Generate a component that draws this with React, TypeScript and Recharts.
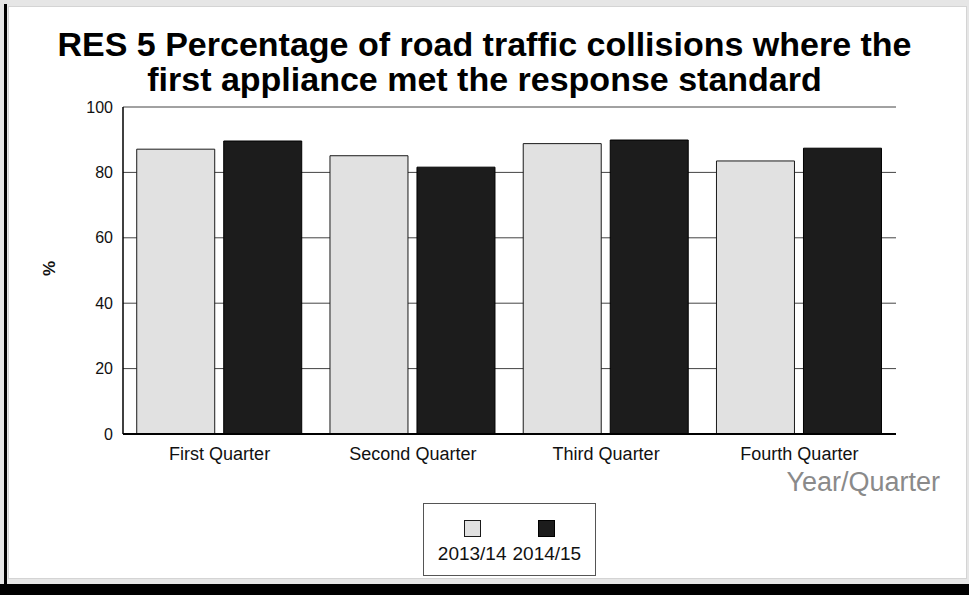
import { Bar, BarChart, CartesianGrid, Legend, XAxis, YAxis } from 'recharts';

const quarters = ['First Quarter', 'Second Quarter', 'Third Quarter', 'Fourth Quarter'];
const values201314 = [87.1, 85.1, 88.8, 83.5];
const values201415 = [89.6, 81.6, 89.9, 87.4];
const yTicks = [0, 20, 40, 60, 80, 100];

const series = [
  { key: 'y201314', name: '2013/14', fill: '#e1e1e1', stroke: '#1a1a1a' },
  { key: 'y201415', name: '2014/15', fill: '#1c1c1c', stroke: '#000000' },
];

const data = quarters.map((q, i) => ({ quarter: q, y201314: values201314[i], y201415: values201415[i] }));

const FONT = '"Liberation Sans", Arial, sans-serif';

function PercentLabel(props: any) {
  const { viewBox } = props;
  const cx = viewBox.x + 49;
  const cy = viewBox.y + viewBox.height / 2 - 2;
  return (
    <text
      x={cx}
      y={cy}
      transform={`rotate(-90 ${cx} ${cy})`}
      textAnchor="middle"
      dominantBaseline="central"
      fontFamily={FONT}
      fontWeight="bold"
      fontSize={17}
      fill="#111"
    >
      %
    </text>
  );
}

function QuarterLabel(props: any) {
  const { viewBox } = props;
  return (
    <text
      x={viewBox.x + viewBox.width + 44}
      y={viewBox.y + 57}
      textAnchor="end"
      fontFamily={FONT}
      fontSize={27}
      fill="#8a8a8a"
    >
      Year/Quarter
    </text>
  );
}

function LegendBox() {
  return (
    <div
      style={{
        boxSizing: 'border-box',
        width: 173,
        height: 73,
        border: '1px solid #555',
        background: '#fff',
        display: 'flex',
        justifyContent: 'center',
        gap: 6,
        paddingTop: 16,
        fontFamily: FONT,
      }}
    >
      {series.map((s) => (
        <div key={s.key} style={{ display: 'flex', flexDirection: 'column', alignItems: 'center' }}>
          <div style={{ width: 15, height: 15, background: s.fill, border: `1px solid ${s.stroke}` }} />
          <div style={{ marginTop: 7, fontSize: 19, lineHeight: '19px', color: '#111' }}>{s.name}</div>
        </div>
      ))}
    </div>
  );
}

const titleLine = {
  position: 'absolute' as const,
  left: 0,
  width: 969,
  textAlign: 'center' as const,
  fontFamily: FONT,
  fontWeight: 'bold' as const,
  fontSize: 34,
  lineHeight: '34px',
  height: 34,
  color: '#000',
  whiteSpace: 'nowrap' as const,
};

export default function App() {
  return (
    <div style={{ position: 'fixed', left: 0, top: 0, width: 969, height: 595, overflow: 'hidden', background: '#e6e6e6' }}>
      <div style={{ position: 'absolute', left: 4, top: 4, width: 3, height: 591, background: '#000' }} />
      <div
        style={{
          position: 'absolute',
          left: 8,
          top: 6,
          width: 959,
          height: 573,
          background: '#fff',
          border: '1px solid #d4d4d4',
          boxSizing: 'border-box',
        }}
      />
      <div style={{ position: 'absolute', left: 0, top: 584, width: 969, height: 11, background: '#000' }} />
      <div style={{ ...titleLine, top: 27 }}>RES 5 Percentage of road traffic collisions where the</div>
      <div style={{ ...titleLine, top: 62 }}>first appliance met the response standard</div>
      <div style={{ position: 'absolute', left: 0, top: 0 }}>
        <BarChart
          width={969}
          height={595}
          data={data}
          margin={{ top: 107, right: 73, bottom: 19, left: 0 }}
          barCategoryGap="7.1%"
          barGap={9}
        >
          <CartesianGrid vertical={false} stroke="#444" strokeWidth={1} />
          <XAxis
            dataKey="quarter"
            height={69}
            tickLine={false}
            tickSize={0}
            tickMargin={13}
            axisLine={{ stroke: '#000', strokeWidth: 2 }}
            tick={{ fontSize: 18, fill: '#111', fontFamily: FONT }}
            interval={0}
            label={<QuarterLabel />}
          />
          <YAxis
            width={123}
            domain={[0, 100]}
            ticks={yTicks}
            tickLine={false}
            tickSize={0}
            tickMargin={10}
            axisLine={{ stroke: '#000', strokeWidth: 1.5 }}
            tick={{ fontSize: 16, fill: '#111', fontFamily: FONT }}
            label={<PercentLabel />}
          />
          <YAxis
            yAxisId="frame"
            orientation="right"
            width={0}
            tick={false}
            tickLine={false}
            axisLine={{ stroke: '#444', strokeWidth: 1 }}
          />
          <Legend
            verticalAlign="bottom"
            content={<LegendBox />}
            wrapperStyle={{ left: 423, bottom: 19, width: 173 }}
          />
          {series.map((s) => (
            <Bar
              key={s.key}
              dataKey={s.key}
              name={s.name}
              fill={s.fill}
              stroke={s.stroke}
              strokeWidth={1}
              isAnimationActive={false}
            />
          ))}
        </BarChart>
      </div>
    </div>
  );
}
